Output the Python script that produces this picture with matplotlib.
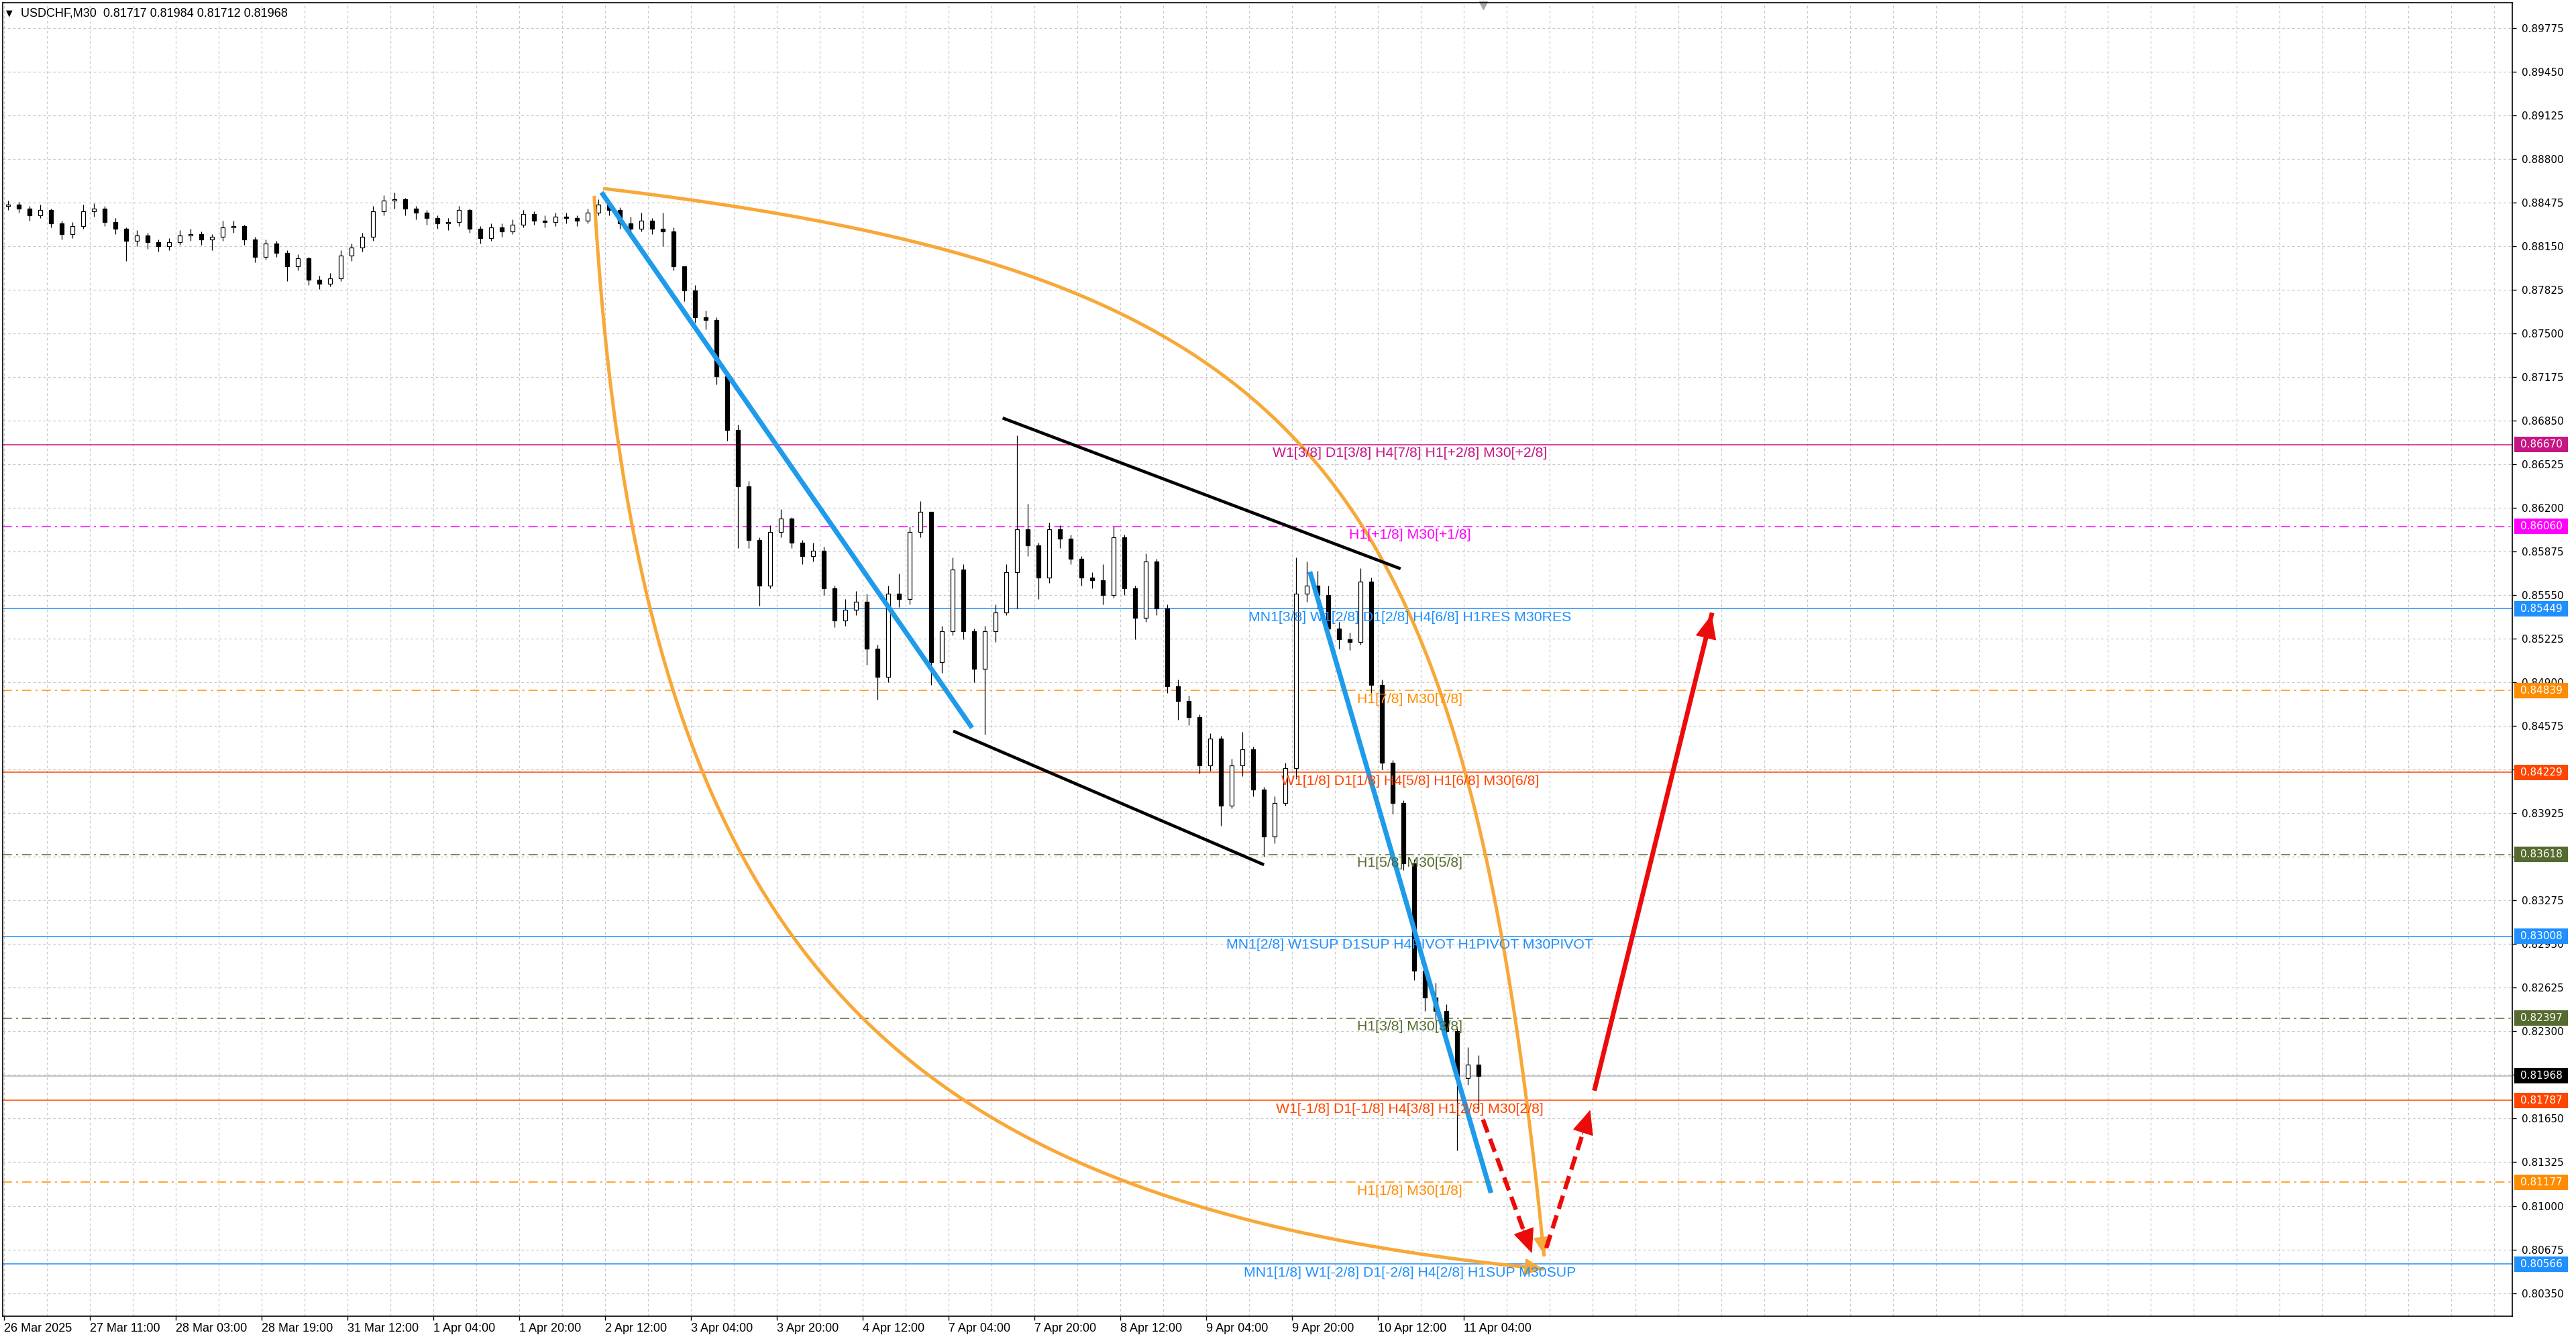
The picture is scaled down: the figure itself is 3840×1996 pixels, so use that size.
import numpy as np
import matplotlib.pyplot as plt
import matplotlib.transforms as mtransforms
from matplotlib.patches import Rectangle

# USDCHF M30, drawn as 2-hour blocks (4 bars each)
first_open = 0.8845
closes = [0.8846, 0.8843, 0.8838, 0.8842, 0.8832, 0.8824, 0.8830, 0.8841, 0.8843, 0.8833,
          0.8828, 0.8819, 0.8823, 0.8818, 0.8815, 0.8818, 0.8823, 0.8824, 0.8820, 0.8822,
          0.8829, 0.8830, 0.8820, 0.8807, 0.8817, 0.8810, 0.8800, 0.8806, 0.8790, 0.8787,
          0.8791, 0.8808, 0.8814, 0.8822, 0.8841, 0.8849, 0.8850, 0.8843, 0.8840, 0.8836,
          0.8832, 0.8833, 0.8842, 0.8828, 0.8821, 0.8829, 0.8826, 0.8831, 0.8839, 0.8834,
          0.8833, 0.8837, 0.8836, 0.8834, 0.8840, 0.8846, 0.8842, 0.8832, 0.8828, 0.8834,
          0.8828, 0.8826, 0.8800, 0.8782, 0.8762, 0.8760, 0.8718, 0.8678, 0.8636, 0.8596,
          0.8562, 0.8602, 0.8612, 0.8594, 0.8584, 0.8588, 0.8560, 0.8536, 0.8544, 0.8550,
          0.8515, 0.8494, 0.8556, 0.8552, 0.8602, 0.8617, 0.8505, 0.8528, 0.8574, 0.8528,
          0.8500, 0.8528, 0.8542, 0.8572, 0.8604, 0.8592, 0.8568, 0.8604, 0.8597, 0.8582,
          0.8568, 0.8566, 0.8555, 0.8598, 0.8560, 0.8538, 0.8580, 0.8545, 0.8487, 0.8476,
          0.8464, 0.8428, 0.8448, 0.8398, 0.8428, 0.8440, 0.8410, 0.8375, 0.8400, 0.8426,
          0.8556, 0.8562, 0.8555, 0.8530, 0.8522, 0.8520, 0.8565, 0.8488, 0.8430, 0.8400,
          0.8355, 0.8275, 0.8255, 0.8245, 0.8230, 0.8195, 0.8205, 0.81968]
highs = [0.8849, 0.8848, 0.8845, 0.8846, 0.8843, 0.8834, 0.8833, 0.8846, 0.8847, 0.8845,
         0.8836, 0.8829, 0.8827, 0.8825, 0.8820, 0.8821, 0.8827, 0.8828, 0.8826, 0.8824,
         0.8834, 0.8834, 0.8831, 0.8822, 0.8820, 0.8819, 0.8812, 0.8809, 0.8807, 0.8793,
         0.8795, 0.8812, 0.8817, 0.8825, 0.8845, 0.8853, 0.8855, 0.8851, 0.8845, 0.8842,
         0.8838, 0.8836, 0.8845, 0.8843, 0.8830, 0.8832, 0.8832, 0.8835, 0.8842, 0.8841,
         0.8838, 0.8840, 0.8840, 0.8838, 0.8843, 0.8850, 0.8849, 0.8844, 0.8837, 0.8840,
         0.8836, 0.8840, 0.8829, 0.8800, 0.8786, 0.8767, 0.8762, 0.8720, 0.8682, 0.8640,
         0.8598, 0.8607, 0.8619, 0.8613, 0.8596, 0.8594, 0.8591, 0.8562, 0.8552, 0.8558,
         0.8556, 0.8518, 0.8562, 0.8571, 0.8606, 0.8625, 0.8548, 0.8532, 0.8583, 0.8578,
         0.8530, 0.8532, 0.8548, 0.8578, 0.8674, 0.8623, 0.8594, 0.8609, 0.8607, 0.8600,
         0.8584, 0.8572, 0.8578, 0.8606, 0.8600, 0.8562, 0.8586, 0.8582, 0.8548, 0.8492,
         0.8480, 0.8466, 0.8452, 0.8450, 0.8433, 0.8453, 0.8442, 0.8412, 0.8405, 0.8430,
         0.8583, 0.8580, 0.8573, 0.8562, 0.8535, 0.8527, 0.8575, 0.8568, 0.8492, 0.8432,
         0.8402, 0.8358, 0.8282, 0.8266, 0.8250, 0.8233, 0.8218, 0.8212]
lows = [0.8842, 0.8840, 0.8834, 0.8836, 0.8829, 0.8820, 0.8821, 0.8828, 0.8837, 0.8830,
        0.8824, 0.8804, 0.8815, 0.8813, 0.8811, 0.8812, 0.8816, 0.8819, 0.8816, 0.8812,
        0.8819, 0.8825, 0.8816, 0.8803, 0.8805, 0.8807, 0.8789, 0.8797, 0.8786, 0.8783,
        0.8785, 0.8789, 0.8804, 0.8811, 0.8819, 0.8838, 0.8843, 0.8838, 0.8835, 0.8831,
        0.8828, 0.8827, 0.8830, 0.8825, 0.8817, 0.8819, 0.8822, 0.8824, 0.8829, 0.8831,
        0.8829, 0.8830, 0.8832, 0.8830, 0.8832, 0.8838, 0.8838, 0.8828, 0.8824, 0.8826,
        0.8824, 0.8815, 0.8797, 0.8774, 0.8758, 0.8753, 0.8712, 0.8670, 0.8590, 0.8590,
        0.8547, 0.8560, 0.8598, 0.8590, 0.8578, 0.8580, 0.8555, 0.8531, 0.8532, 0.8540,
        0.8503, 0.8477, 0.8490, 0.8546, 0.8548, 0.8598, 0.8488, 0.8497, 0.8525, 0.8522,
        0.8490, 0.8451, 0.8520, 0.8540, 0.8545, 0.8584, 0.8552, 0.8564, 0.8590, 0.8578,
        0.8562, 0.8560, 0.8548, 0.8553, 0.8555, 0.8522, 0.8535, 0.8540, 0.8482, 0.8462,
        0.8458, 0.8422, 0.8424, 0.8383, 0.8396, 0.8420, 0.8405, 0.8360, 0.8370, 0.8398,
        0.8418, 0.8550, 0.8545, 0.8525, 0.8515, 0.8514, 0.8518, 0.8482, 0.8425, 0.8392,
        0.8350, 0.8268, 0.8245, 0.8238, 0.8225, 0.8141, 0.8190, 0.8172]
bars_per_block = 4

# Murrey levels on the right
levels = [0.86670, 0.86060, 0.85449, 0.84839, 0.84229, 0.83618, 0.83008, 0.82397, 0.81787, 0.81177, 0.80566]
level_colors = ['#C71585', '#FF00FF', '#1E90FF', '#FF8C00', '#FF4500', '#556B2F',
                '#1E90FF', '#556B2F', '#FF4500', '#FF8C00', '#1E90FF']
level_dashdot = [False, True, False, True, False, True, False, True, False, True, False]
level_texts = ['W1[3/8] D1[3/8] H4[7/8] H1[+2/8] M30[+2/8]',
               'H1[+1/8] M30[+1/8]',
               'MN1[3/8] W1[2/8] D1[2/8] H4[6/8] H1RES M30RES',
               'H1[7/8] M30[7/8]',
               'W1[1/8] D1[1/8] H4[5/8] H1[6/8] M30[6/8]',
               'H1[5/8] M30[5/8]',
               'MN1[2/8] W1SUP D1SUP H4PIVOT H1PIVOT M30PIVOT',
               'H1[3/8] M30[3/8]',
               'W1[-1/8] D1[-1/8] H4[3/8] H1[2/8] M30[2/8]',
               'H1[1/8] M30[1/8]',
               'MN1[1/8] W1[-2/8] D1[-2/8] H4[2/8] H1SUP M30SUP']
level_label_bar = 524
bid = 0.81968

yticks = [0.89775, 0.89450, 0.89125, 0.88800, 0.88475, 0.88150, 0.87825, 0.87500, 0.87175, 0.86850,
          0.86525, 0.86200, 0.85875, 0.85550, 0.85225, 0.84900, 0.84575, 0.84250, 0.83925, 0.83600,
          0.83275, 0.82950, 0.82625, 0.82300, 0.81975, 0.81650, 0.81325, 0.81000, 0.80675, 0.80350]
xlabels = ['26 Mar 2025', '27 Mar 11:00', '28 Mar 03:00', '28 Mar 19:00', '31 Mar 12:00',
           '1 Apr 04:00', '1 Apr 20:00', '2 Apr 12:00', '3 Apr 04:00', '3 Apr 20:00',
           '4 Apr 12:00', '7 Apr 04:00', '7 Apr 20:00', '8 Apr 12:00', '9 Apr 04:00',
           '9 Apr 20:00', '10 Apr 12:00', '11 Apr 04:00']
bars_per_label = 32

# drawn objects (bar index, price)
blue_lines = [[(222.7, 0.88550), (360.8, 0.84561)],
              [(486.7, 0.85724), (554.2, 0.81096)]]
channel_lines = [[(372.2, 0.86869), (520.5, 0.85746)],
                 [(353.8, 0.84537), (469.6, 0.83541)]]
arc_upper = [(223.3, 0.88579), (486.3, 0.87949), (544.3, 0.86590), (574.0, 0.80623)]
arc_lower = [(220.0, 0.88524), (236.0, 0.82926), (326.3, 0.81008), (574.0, 0.80530)]
red_solid = [(592.7, 0.81858), (636.6, 0.85418)]
red_dashed = [[(551.2, 0.81643), (569.7, 0.80634)],
              [(574.8, 0.80686), (591.4, 0.81728)]]

W, H = 3840, 1996
fig = plt.figure(figsize=(W / 100, H / 100), dpi=100)
fig.patch.set_facecolor('white')
ax = fig.add_axes([4 / W, 1 - 1962 / H, 3741 / W, 1958 / H])
ax.set_xlim(-0.45, 934.8)
ax.set_ylim(0.80178, 0.89963)

grid_c = '#C8C8C8'
for p in yticks:
    ax.axhline(p, color=grid_c, lw=0.9, ls=(0, (3, 3)), zorder=0)
for b in np.arange(0, 935, 16):
    ax.axvline(b, color=grid_c, lw=0.9, ls=(0, (3, 3)), zorder=0)

# levels
for lv, col, dd in zip(levels, level_colors, level_dashdot):
    ls = (0, (9, 4, 2, 4)) if dd else '-'
    ax.axhline(lv, color=col, lw=1.1, ls=ls, zorder=1)
ax.axhline(bid, color='#B4B4B4', lw=1.1, zorder=1)

# candles
opens = [first_open] + closes[:-1]
w = 1.5
for k, (o, hi, lo, c) in enumerate(zip(opens, highs, lows, closes)):
    x = k * bars_per_block + 1.5
    ax.plot([x, x], [lo, hi], color='black', lw=0.9, zorder=3, solid_capstyle='butt')
    bot = min(o, c)
    hgt = max(abs(c - o), 0.00004)
    face = 'white' if c >= o else 'black'
    ax.add_patch(Rectangle((x - w / 2, bot), w, hgt, facecolor=face, edgecolor='black',
                           lw=0.9, zorder=4))


def bezier(pts, n=300):
    t = np.linspace(0, 1, n)[:, None]
    p = np.array(pts)
    return ((1 - t) ** 3) * p[0] + 3 * ((1 - t) ** 2) * t * p[1] + 3 * (1 - t) * t ** 2 * p[2] + t ** 3 * p[3]


orange = '#F8A838'
for arc in (arc_upper, arc_lower):
    cv = bezier(arc)
    ax.plot(cv[:, 0], cv[:, 1], color=orange, lw=3.6, zorder=5, solid_capstyle='butt')
    ax.annotate('', xy=tuple(cv[-1]), xytext=tuple(cv[-12]),
                arrowprops=dict(arrowstyle='-|>,head_length=0.5,head_width=0.25',
                                color=orange, lw=2.5, mutation_scale=30), zorder=5)

for (a, b) in blue_lines:
    ax.plot([a[0], b[0]], [a[1], b[1]], color='#1E9BEA', lw=5.2, zorder=6, solid_capstyle='butt')
for (a, b) in channel_lines:
    ax.plot([a[0], b[0]], [a[1], b[1]], color='black', lw=3.3, zorder=6, solid_capstyle='butt')

red = '#EC0B0B'
a, b = red_solid
ax.plot([a[0], b[0]], [a[1], b[1]], color=red, lw=5.0, zorder=7, solid_capstyle='butt')
ax.annotate('', xy=b, xytext=(a[0] + 0.9 * (b[0] - a[0]), a[1] + 0.9 * (b[1] - a[1])),
            arrowprops=dict(arrowstyle='-|>,head_length=0.8,head_width=0.35', color=red,
                            lw=1, mutation_scale=30), zorder=7)
for a, b in red_dashed:
    ax.plot([a[0], b[0] - 0.12 * (b[0] - a[0])], [a[1], b[1] - 0.12 * (b[1] - a[1])],
            color=red, lw=4.6, ls=(0, (3.2, 1.6)), zorder=7, solid_capstyle='butt')
    ax.annotate('', xy=b, xytext=(a[0] + 0.8 * (b[0] - a[0]), a[1] + 0.8 * (b[1] - a[1])),
                arrowprops=dict(arrowstyle='-|>,head_length=0.8,head_width=0.35', color=red,
                                lw=1, mutation_scale=30), zorder=7)

# level captions
for lv, col, txt in zip(levels, level_colors, level_texts):
    ax.annotate(txt, xy=(level_label_bar, lv), xytext=(0, -2.5), textcoords='offset points',
                ha='center', va='top', color=col, fontsize=15.3, family='Liberation Sans', zorder=8)

# axes styling
for s in ax.spines.values():
    s.set_color('black')
    s.set_linewidth(1.2)
ax.yaxis.tick_right()
ax.set_yticks(yticks)
ax.set_yticklabels([f'{v:.5f}' for v in yticks])
ax.tick_params(axis='y', direction='out', length=4, width=1, pad=6, labelsize=11, colors='black')
ax.set_xticks([i * bars_per_label for i in range(len(xlabels))])
ax.set_xticklabels(xlabels, ha='left', family='Liberation Sans', fontsize=13)
ax.tick_params(axis='x', direction='out', length=4, width=1, pad=3)

# price boxes on the axis
tr = mtransforms.blended_transform_factory(ax.transAxes, ax.transData)
x0 = (3748 - 4) / 3741
x1 = (3828 - 4) / 3741
bh = 23 / 20010
for lv, col in list(zip(levels, level_colors)) + [(bid, 'black')]:
    ax.add_patch(Rectangle((x0, lv - bh / 2), x1 - x0, bh, transform=tr, facecolor=col,
                           edgecolor='none', clip_on=False, zorder=10))
    ax.text((3757 - 4) / 3741, lv, f'{lv:.5f}', transform=tr, color='white', fontsize=11,
            va='center', ha='left', clip_on=False, zorder=11)

# shift marker
ax.plot([551.3], [0.998], marker='v', color='#A8A8A8', markersize=8,
        transform=mtransforms.blended_transform_factory(ax.transData, ax.transAxes), clip_on=False)

# header
fig.text(14 / W, 1 - 20 / H, '\u25bc', fontsize=9, ha='center', va='center', family='DejaVu Sans')
fig.text(31 / W, 1 - 20 / H, 'USDCHF,M30  0.81717 0.81984 0.81712 0.81968', fontsize=13,
         ha='left', va='center', family='Liberation Sans')

fig.savefig('out.png', dpi=100, facecolor='white')
